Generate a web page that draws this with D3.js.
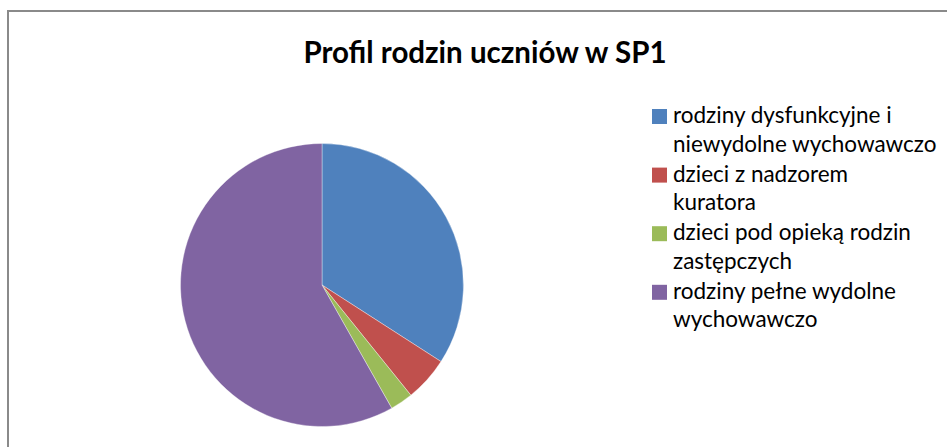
<!DOCTYPE html>
<html><head><meta charset="utf-8">
<script src="https://cdn.jsdelivr.net/npm/d3@7"></script>
<style>html,body{margin:0;padding:0;background:#fff;overflow:hidden}</style>
</head><body>
<svg id="c" width="947" height="447"></svg>
<script>
const title = "Profil rodzin uczniów w SP1";
const categories = [
  ["rodziny dysfunkcyjne i", "niewydolne wychowawczo"],
  ["dzieci z nadzorem", "kuratora"],
  ["dzieci pod opieką rodzin", "zastępczych"],
  ["rodziny pełne wydolne", "wychowawczo"]
];
const values = [34.1, 5.1, 2.6, 58.2];
const colors = ["#4F81BD", "#C0504D", "#9BBB59", "#8064A2"];

const svg = d3.select("#c");
const font = "Lato, 'Open Sans', sans-serif";

svg.append("rect").attr("x", 8).attr("y", 11).attr("width", 1000).attr("height", 500)
  .attr("fill", "#fff").attr("stroke", "#8a8a8a").attr("stroke-width", 2);

svg.append("text").attr("x", 485).attr("y", 63).attr("text-anchor", "middle")
  .attr("font-family", font).attr("font-weight", "bold").attr("font-size", 29.5)
  .attr("fill", "#000").text(title);

const cx = 322, cy = 285, r = 141.5;
const pie = d3.pie().sort(null).value(d => d);
const arc = d3.arc().innerRadius(0).outerRadius(r);
svg.append("g").attr("transform", `translate(${cx},${cy})`)
  .selectAll("path").data(pie(values)).join("path")
  .attr("d", arc).attr("fill", (d, i) => colors[i])
  .attr("stroke", "#fff").attr("stroke-width", 0.6).attr("stroke-opacity", 0.6);

const leg = svg.append("g");
const y0 = 109, step = 58.6, lineH = 28.5;
categories.forEach((lines, i) => {
  const g = leg.append("g").attr("transform", `translate(0,${y0 + i * step})`);
  g.append("rect").attr("x", 652).attr("y", 0).attr("width", 15).attr("height", 15)
    .attr("fill", colors[i]);
  lines.forEach((t, j) => {
    g.append("text").attr("x", 673).attr("y", 14 + j * lineH)
      .attr("font-family", font).attr("font-size", 22.5).attr("fill", "#000").text(t);
  });
});
</script>
</body></html>
